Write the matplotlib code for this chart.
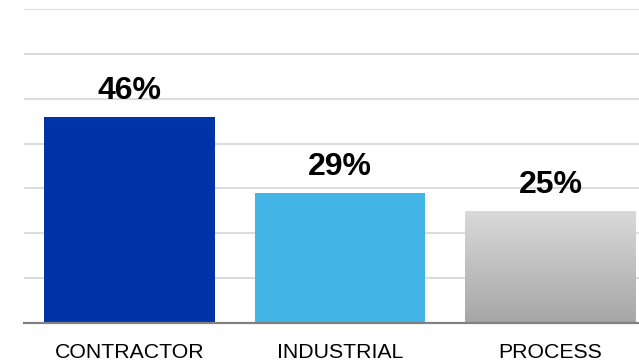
import numpy as np
import matplotlib.pyplot as plt

# --- Data ---
CATEGORIES = ["CONTRACTOR", "INDUSTRIAL", "PROCESS"]
SHARES = [46, 29, 25]
VALUE_LABELS = ["46%", "29%", "25%"]
BAR_COLORS = ["#0033A8", "#42B4E6", "#BFBFBF"]
Y_MAX = 70
Y_STEP = 10

plt.rcParams['font.family'] = ['Liberation Sans', 'DejaVu Sans']

fig = plt.figure(figsize=(6.39, 3.64), dpi=100)
ax = fig.add_axes([0.038, 0.1126, 0.988, 0.8626])

x = np.arange(len(CATEGORIES))
bars = ax.bar(x, SHARES, width=0.81, color=BAR_COLORS, zorder=2)

# gradient fill for the last bar (light grey at top -> darker at bottom)
gb = bars[-1]
grad = np.linspace(0, 1, 256).reshape(-1, 1)
cmap = plt.matplotlib.colors.LinearSegmentedColormap.from_list("g", ["#A6A6A6", "#DADADA"])
im = ax.imshow(grad, cmap=cmap, aspect='auto', origin='lower',
               extent=[gb.get_x(), gb.get_x() + gb.get_width(), 0, gb.get_height()],
               zorder=3)
im.set_clip_path(gb)

for b, lab in zip(bars, VALUE_LABELS):
    ax.annotate(lab, (b.get_x() + b.get_width() / 2, b.get_height()),
                xytext=(0, 8), textcoords='offset points',
                ha='center', va='bottom', fontsize=23, fontweight='bold',
                color='black', zorder=4)

ax.set_xlim(-0.5, len(CATEGORIES) - 0.5)
ax.set_ylim(0, Y_MAX)
ax.set_yticks(np.arange(Y_STEP, Y_MAX + 1, Y_STEP))
ax.yaxis.grid(True, color='#D9D9D9', linewidth=1.3, zorder=0)
ax.set_axisbelow(True)
ax.tick_params(axis='y', left=False, labelleft=False)
ax.set_xticks(x)
ax.set_xticklabels(CATEGORIES, fontsize=15.3)
ax.tick_params(axis='x', length=0, pad=14.5)

for s in ['top', 'right', 'left']:
    ax.spines[s].set_visible(False)
ax.spines['bottom'].set_color('#808080')
ax.spines['bottom'].set_linewidth(1.6)
ax.spines['bottom'].set_zorder(5)

fig.savefig("out.png", dpi=100)
